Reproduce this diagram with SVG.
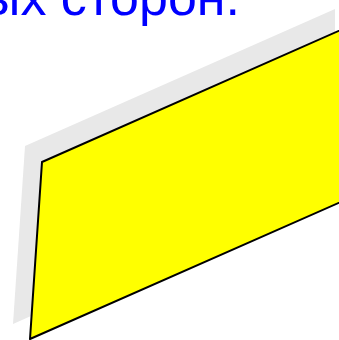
<svg xmlns="http://www.w3.org/2000/svg" width="339" height="340" viewBox="0 0 339 340">
<style>
.t{font-family:"Liberation Sans",Arial,sans-serif;font-size:52px;fill:#0000ff}
.sh{fill:#e8e8e8;stroke:none}
.face{fill:#ffff00;stroke:#000;stroke-width:2;stroke-linejoin:round}
</style>
<rect width="339" height="340" fill="#fff"/>
<g id="title"><text class="t" x="240" y="15" text-anchor="end">ых сторон.</text></g>
<g id="shape">
<polygon class="sh" points="25,146 335,9 335,181 13,324"/>
<polygon class="face" points="42,162 352,25 352,197 30,339"/>
</g>
</svg>
